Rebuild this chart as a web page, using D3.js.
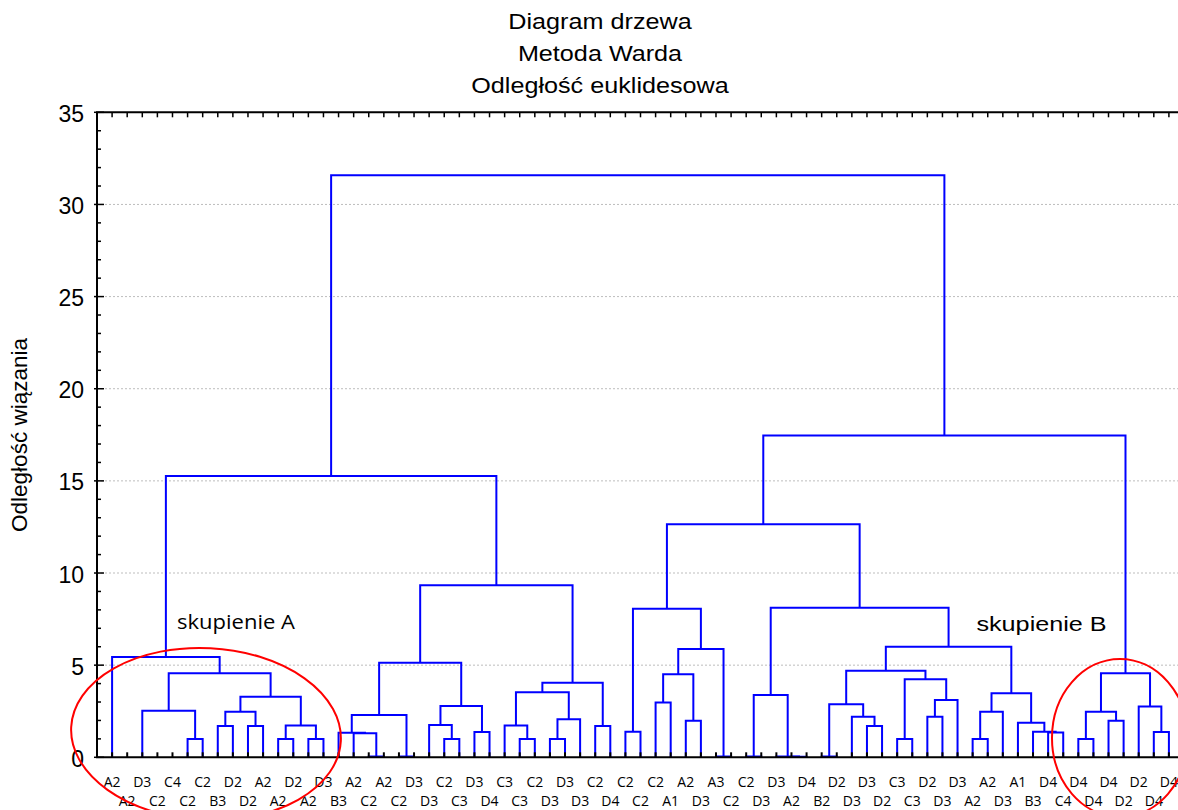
<!DOCTYPE html>
<html>
<head>
<meta charset="utf-8">
<script src="https://cdn.jsdelivr.net/npm/d3@7"></script>
<style>
  body { margin: 0; background: #fff; }
  svg { display: block; }
</style>
</head>
<body>
<svg id="chart" width="1178" height="810"></svg>
<script>
// Objects in dendrogram order (left to right)
const leafLabels = [
  "A2","A2","D3","C2","C4","C2","C2","B3","D2","D2",
  "A2","A2","D2","A2","D3","B3","A2","C2","A2","C2",
  "D3","D3","C2","C3","D3","D4","C3","C3","C2","D3",
  "D3","D3","C2","D4","C2","C2","C2","A1","A2","D3",
  "A3","C2","C2","D3","D3","A2","D4","B2","D2","D3",
  "D3","D2","C3","C3","D2","D3","D3","A2","A2","D3",
  "A1","B3","D4","C4","D4","D4","D4","D2","D2","D4",
  "D4"
];

// Ward amalgamation steps: [cluster name, left member, right member, linkage distance]
// numbers are object indices, strings refer to clusters formed earlier
const merges = [
  ["a01", 0, 1, 0],
  ["a34", 3, 4, 0],
  ["a234", 2, "a34", 0],
  ["a56", 5, 6, 0.99],
  ["a2_6", "a234", "a56", 2.53],
  ["a78", 7, 8, 1.70],
  ["a910", 9, 10, 1.70],
  ["a7_10", "a78", "a910", 2.47],
  ["a1112", 11, 12, 0.99],
  ["a1314", 13, 14, 0.99],
  ["a11_14", "a1112", "a1314", 1.73],
  ["a7_14", "a7_10", "a11_14", 3.29],
  ["a2_14", "a2_6", "a7_14", 4.56],
  ["clA", "a01", "a2_14", 5.44],

  ["b1718", 17, 18, 0.04],
  ["b16_18", 16, "b1718", 1.30],
  ["b15_18", 15, "b16_18", 1.33],
  ["b1920", 19, 20, 0.04],
  ["b15_20", "b15_18", "b1920", 2.30],
  ["b2223", 22, 23, 0.99],
  ["b21_23", 21, "b2223", 1.75],
  ["b2425", 24, 25, 1.37],
  ["b21_25", "b21_23", "b2425", 2.78],
  ["b15_25", "b15_20", "b21_25", 5.13],
  ["c2728", 27, 28, 0.99],
  ["c26_28", 26, "c2728", 1.72],
  ["c2930", 29, 30, 0.99],
  ["c29_31", "c2930", 31, 2.06],
  ["c26_31", "c26_28", "c29_31", 3.53],
  ["c3233", 32, 33, 1.70],
  ["c26_33", "c26_31", "c3233", 4.05],
  ["b15_33", "b15_25", "c26_33", 9.34],
  ["left", "clA", "b15_33", 15.26],

  ["d3435", 34, 35, 1.38],
  ["d3637", 36, 37, 2.98],
  ["d3839", 38, 39, 1.99],
  ["d36_39", "d3637", "d3839", 4.50],
  ["d4041", 40, 41, 0.04],
  ["d36_41", "d36_39", "d4041", 5.87],
  ["d34_41", "d3435", "d36_41", 8.06],
  ["e4243", 42, 43, 0.04],
  ["e4546", 45, 46, 0.03],
  ["e44_46", 44, "e4546", 0.05],
  ["e42_46", "e4243", "e44_46", 3.38],
  ["f4748", 47, 48, 0.04],
  ["f5051", 50, 51, 1.70],
  ["f49_51", 49, "f5051", 2.20],
  ["f47_51", "f4748", "f49_51", 2.88],
  ["f5253", 52, 53, 0.99],
  ["f5455", 54, 55, 2.20],
  ["f54_56", "f5455", 56, 3.11],
  ["f52_56", "f5253", "f54_56", 4.23],
  ["f47_56", "f47_51", "f52_56", 4.70],
  ["g5758", 57, 58, 0.99],
  ["g57_59", "g5758", 59, 2.47],
  ["g6263", 62, 63, 1.35],
  ["g61_63", 61, "g6263", 1.38],
  ["g60_63", 60, "g61_63", 1.88],
  ["g57_63", "g57_59", "g60_63", 3.47],
  ["f47_63", "f47_56", "g57_63", 6.00],
  ["e42_63", "e42_46", "f47_63", 8.12],
  ["d34_63", "d34_41", "e42_63", 12.65],
  ["h6465", 64, 65, 0.99],
  ["h6667", 66, 67, 1.99],
  ["h64_67", "h6465", "h6667", 2.47],
  ["h6970", 69, 70, 1.37],
  ["h68_70", 68, "h6970", 2.75],
  ["clB", "h64_67", "h68_70", 4.56],
  ["right", "d34_63", "clB", 17.46],

  ["root", "left", "right", 31.58]
];

const yTicks = [0, 5, 10, 15, 20, 25, 30, 35];
const gridValues = [5, 10, 15, 20, 25, 30];
const titleLines = ["Diagram drzewa", "Metoda Warda", "Odległość euklidesowa"];
const yAxisTitle = "Odległość wiązania";
const groupNames = ["skupienie A", "skupienie B"];

const svg = d3.select("#chart");
const plot = { left: 97, right: 1184, top: 112.3, bottom: 757.3 };

// One step per object, with a free step on either side of the row
const x = d3.scaleLinear().domain([-1, leafLabels.length]).range([plot.left, plot.right]);
const y = d3.scaleLinear().domain([0, 35]).range([plot.bottom, plot.top]);

// Node positions: objects sit at their own slot; clusters sit midway between
// their members, except zero-distance groups, which stay on their first member
const nodes = new Map();
leafLabels.forEach((lab, i) => nodes.set(i, { x: x(i), h: 0 }));
const links = [];
merges.forEach(([name, a, b, h]) => {
  const na = nodes.get(a), nb = nodes.get(b);
  const nx = h === 0 ? na.x : (na.x + nb.x) / 2;
  nodes.set(name, { x: nx, h });
  if (h > 0) links.push({ a: na, b: nb, h });
});

// Grid
svg.append("g")
  .selectAll("line")
  .data(gridValues)
  .join("line")
  .attr("x1", plot.left).attr("x2", plot.right)
  .attr("y1", d => y(d)).attr("y2", d => y(d))
  .attr("stroke", "#bdbdbd")
  .attr("stroke-width", 1)
  .attr("stroke-dasharray", "2,2");

// Tree links (elbow joints)
svg.append("g")
  .selectAll("path")
  .data(links)
  .join("path")
  .attr("d", d => `M${d.a.x},${y(d.a.h)}V${y(d.h)}H${d.b.x}V${y(d.b.h)}`)
  .attr("fill", "none")
  .attr("stroke", "#0000ff")
  .attr("stroke-width", 2);

// Frame and axes
const frame = svg.append("g");
frame.append("path")
  .attr("d", `M${plot.right},${plot.top}H${plot.left}V${plot.bottom}H${plot.right}`)
  .attr("fill", "none").attr("stroke", "#000").attr("stroke-width", 2);

// Left axis: labelled ticks every 5, minor ticks every 1
const minor = d3.range(0, 36);
frame.append("g").selectAll("line").data(minor).join("line")
  .attr("x1", plot.left).attr("x2", d => d % 5 === 0 ? plot.left + 7 : plot.left + 4)
  .attr("y1", d => y(d)).attr("y2", d => y(d))
  .attr("stroke", "#000").attr("stroke-width", 1.5);
frame.append("g").selectAll("line").data(yTicks).join("line")
  .attr("x1", plot.left - 3).attr("x2", plot.left)
  .attr("y1", d => y(d)).attr("y2", d => y(d))
  .attr("stroke", "#000").attr("stroke-width", 1.5);
frame.append("g").selectAll("text").data(yTicks).join("text")
  .attr("x", plot.left - 13)
  .attr("y", d => y(d) + 9.5)
  .attr("text-anchor", "end")
  .attr("font-family", "Liberation Sans, Arial, sans-serif")
  .attr("font-size", 23)
  .attr("fill", "#000")
  .text(d => d);

// Object ticks on bottom and top edges
const leafIdx = d3.range(leafLabels.length);
frame.append("g").selectAll("line").data(leafIdx).join("line")
  .attr("x1", d => x(d)).attr("x2", d => x(d))
  .attr("y1", plot.bottom).attr("y2", plot.bottom - 5)
  .attr("stroke", "#000").attr("stroke-width", 2);
frame.append("g").selectAll("line").data(leafIdx).join("line")
  .attr("x1", d => x(d)).attr("x2", d => x(d))
  .attr("y1", plot.top).attr("y2", plot.top + 5)
  .attr("stroke", "#000").attr("stroke-width", 1.5);

// Object labels, staggered in two rows
svg.append("g").selectAll("text").data(leafIdx).join("text")
  .attr("x", d => x(d))
  .attr("y", d => d % 2 === 0 ? 787 : 805.5)
  .attr("text-anchor", "middle")
  .attr("font-family", "Open Sans, sans-serif")
  .attr("font-size", 14)
  .attr("fill", "#000")
  .text(d => leafLabels[d]);

// Titles (slightly widened lettering)
svg.append("g").selectAll("text").data(titleLines).join("text")
  .attr("transform", (d, i) => `translate(600,${29 + i * 32}) scale(1.12,1)`)
  .attr("text-anchor", "middle")
  .attr("font-family", "Liberation Sans, Arial, sans-serif")
  .attr("font-size", 22.5)
  .attr("fill", "#000")
  .text(d => d);

svg.append("text")
  .attr("transform", `translate(27,435) rotate(-90)`)
  .attr("text-anchor", "middle")
  .attr("font-family", "Liberation Sans, Arial, sans-serif")
  .attr("font-size", 22.5)
  .attr("fill", "#000")
  .text(yAxisTitle);

// Group annotations
svg.append("text")
  .attr("transform", `translate(${x(4.3)},${y(6.96)}) scale(1.1,1)`)
  .attr("font-family", "Open Sans, sans-serif")
  .attr("font-size", 20)
  .attr("fill", "#000")
  .text(groupNames[0]);
svg.append("text")
  .attr("transform", `translate(${x(57.25)},${y(6.87)}) scale(1.2,1)`)
  .attr("font-family", "Liberation Sans, Arial, sans-serif")
  .attr("font-size", 21)
  .attr("fill", "#000")
  .text(groupNames[1]);

// Circled groups
const rings = svg.append("g").attr("fill", "none").attr("stroke", "#ff0000").attr("stroke-width", 2);
rings.append("ellipse")
  .attr("transform", `translate(${x(6.22)},${y(1.26)}) rotate(3)`)
  .attr("rx", 135).attr("ry", 86);
rings.append("ellipse")
  .attr("transform", `translate(${x(66.76)},${y(1.05)})`)
  .attr("rx", 68).attr("ry", 79);
</script>
</body>
</html>
